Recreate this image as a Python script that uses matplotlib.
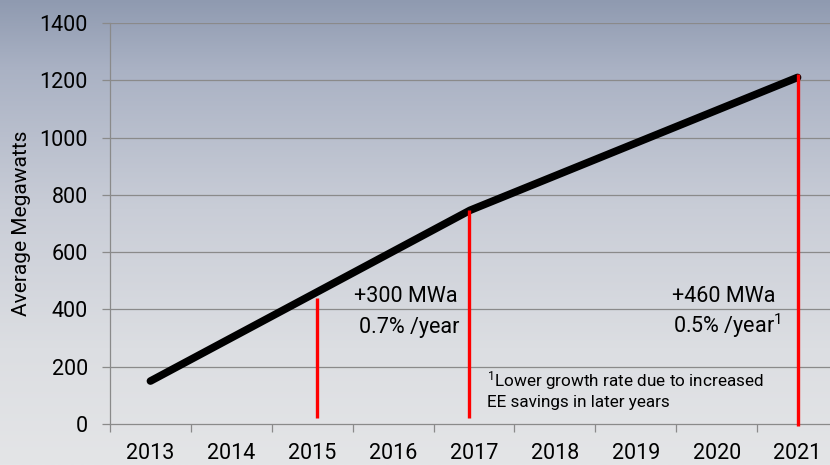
import numpy as np
import matplotlib
matplotlib.use("Agg")
import matplotlib.pyplot as plt
from matplotlib.colors import LinearSegmentedColormap

plt.rcParams['font.family'] = ['Roboto', 'DejaVu Sans']
plt.rcParams['mathtext.fontset'] = 'custom'
plt.rcParams['mathtext.rm'] = 'Roboto'
plt.rcParams['mathtext.it'] = 'Roboto'
plt.rcParams['mathtext.bf'] = 'Roboto'

# ---- data ----
years = [2013, 2014, 2015, 2016, 2017, 2018, 2019, 2020, 2021]
line_years = [2013, 2016.95, 2021]
line_values = [150, 746, 1210]
marker_years = [2015.06, 2016.94, 2021.0]
marker_tops = [440, 747, 1222]
marker_bottoms = [22, 22, -6]
y_ticks = [0, 200, 400, 600, 800, 1000, 1200, 1400]
y_label = "Average Megawatts"
note1 = ["+300 MWa", "0.7% /year"]
note2 = ["+460 MWa", r"0.5% /year$^{\mathrm{1}}$"]
footnote = [r"$^{\mathrm{1}}$Lower growth rate due to increased",
            "EE savings in later years"]

W, H = 830, 465
fig = plt.figure(figsize=(W / 100, H / 100), dpi=100)

# background gradient
bg = fig.add_axes([0, 0, 1, 1], zorder=-10)
cmap = LinearSegmentedColormap.from_list(
    "bg", [(0.0, "#8f9ab0"), (0.15, "#aab2c4"), (0.45, "#c9cdd7"),
           (0.75, "#dcdee2"), (1.0, "#e4e5e7")])
grad = np.linspace(0, 1, 256).reshape(-1, 1)
bg.imshow(grad, aspect="auto", cmap=cmap, extent=[0, 1, 0, 1], origin="upper")
bg.set_axis_off()

left_px, right_px, top_px, bottom_px = 110, 838, 23, 424
ax = fig.add_axes([left_px / W, 1 - bottom_px / H,
                   (right_px - left_px) / W, (bottom_px - top_px) / H])
ax.patch.set_alpha(0)

idx = lambda ys: [y - years[0] for y in ys]

ax.set_xlim(-0.5, len(years) - 0.5)
ax.set_ylim(0, 1400)

# grid
for v in y_ticks[1:]:
    ax.axhline(v, color="#8a8a8a", lw=0.9, zorder=1)

# main line
ax.plot(idx(line_years), line_values, color="black", lw=5.5,
        solid_capstyle="round", solid_joinstyle="round", zorder=3)

# red markers
for x, t, b in zip(idx(marker_years), marker_tops, marker_bottoms):
    ax.plot([x, x], [b, t], color="#ff0000", lw=2.4, zorder=4,
            clip_on=False, solid_capstyle="butt")

# axes styling
for s in ["top", "right"]:
    ax.spines[s].set_visible(False)
for s in ["left", "bottom"]:
    ax.spines[s].set_color("#8a8a8a")
    ax.spines[s].set_linewidth(0.9)

tc = "#000000"
ax.set_yticks(y_ticks)
ax.set_yticklabels([str(v) for v in y_ticks])
ax.tick_params(axis="y", length=6, width=0.9, color="#8a8a8a", pad=10,
               labelsize=15.5, labelcolor=tc)

ax.set_xticks(np.arange(len(years) + 1) - 0.5)
ax.set_xticklabels([])
ax.tick_params(axis="x", which="major", length=6, width=0.9,
               color="#8a8a8a")
ax.set_xticks(np.arange(len(years)), minor=True)
ax.set_xticklabels([str(y) for y in years], minor=True)
ax.tick_params(axis="x", which="minor", length=0, pad=14,
               labelsize=15.5, labelcolor=tc)

ax.set_ylabel(y_label, fontsize=15, color=tc, va="center")
ax.yaxis.set_label_coords(-0.121, 0.5)

# annotations
ax.text(3.16, 427, note1[0], ha="center", va="baseline", fontsize=15.5, color=tc)
ax.text(3.20, 318, note1[1], ha="center", va="baseline", fontsize=15.5, color=tc)
ax.text(6.445, 427, note2[0], ha="left", va="baseline", fontsize=15.5, color=tc)
ax.text(6.455, 318, note2[1], ha="left", va="baseline", fontsize=15.5,
        color=tc)
ax.text(4.16, 133, footnote[0], ha="left", va="baseline",
        fontsize=12.3, color=tc)
ax.text(4.16, 60, footnote[1], ha="left", va="baseline",
        fontsize=12.3, color=tc)

fig.savefig("out.png", dpi=100)
